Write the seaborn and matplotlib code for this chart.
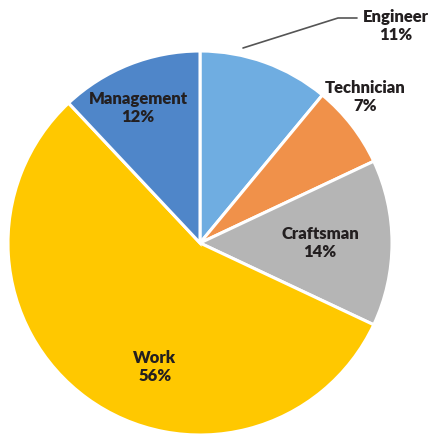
import matplotlib
matplotlib.use("Agg")
import matplotlib.pyplot as plt
import seaborn as sns

# data
categories = ["Engineer", "Technician", "Craftsman", "Work", "Management"]
shares = [11, 7, 14, 56, 12]
colors = ["#6FADE1", "#F0914A", "#B5B5B5", "#FFC800", "#4F86C9"]

# label spots in pixel coords (x, y from top)
label_pos = [(396, 26), (365, 97), (320, 243), (155, 367), (138, 108)]

sns.set_theme(style="white")
plt.rcParams["font.family"] = ["Lato", "DejaVu Sans"]

W, H = 430, 434
fig = plt.figure(figsize=(W / 100, H / 100), dpi=100)
ax = fig.add_axes([0, 0, 1, 1])

cx, cy, r = 200, H - 243, 192
ax.pie(shares, colors=colors, startangle=90, counterclock=False,
       center=(cx, cy), radius=r, frame=True,
       wedgeprops=dict(edgecolor="white", linewidth=2.2))
ax.set_xlim(0, W)
ax.set_ylim(0, H)
ax.set_aspect("equal")
ax.axis("off")

for name, val, (px, py) in zip(categories, shares, label_pos):
    ax.text(px, H - py, f"{name}\n{val}%", ha="center", va="center",
            fontsize=12, fontweight="heavy", color="#231F20", linespacing=1.15)

# leader line for Engineer
ax.plot([243, 338, 357], [H - 48, H - 18, H - 18], color="#555555", lw=1.2)

fig.savefig("out.png", dpi=100)
